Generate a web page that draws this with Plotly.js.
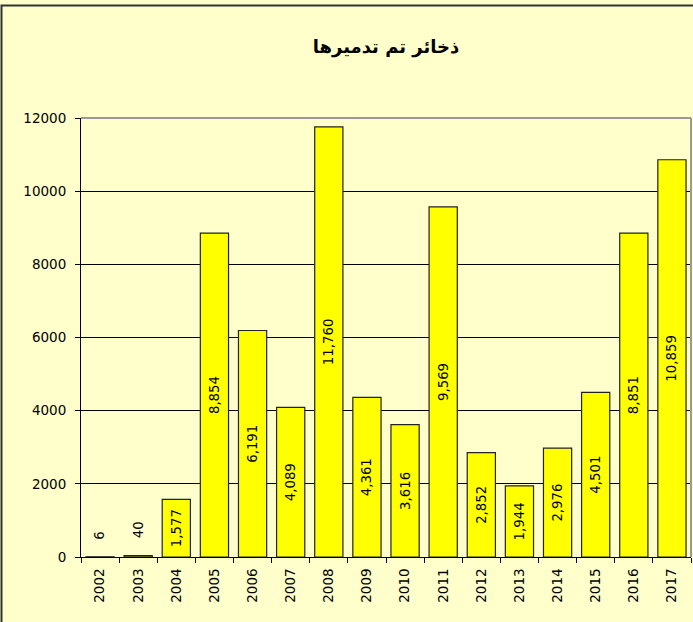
<!DOCTYPE html>
<html>
<head>
<meta charset="utf-8">
<script src="https://cdn.plot.ly/plotly-3.0.1.min.js"></script>
<style>
html,body{margin:0;padding:0;background:#FFFFCC;}
#chart{width:693px;height:622px;}
</style>
</head>
<body>
<div id="chart"></div>
<script>
const years = ["2002","2003","2004","2005","2006","2007","2008","2009","2010","2011","2012","2013","2014","2015","2016","2017"];
const values = [6, 40, 1577, 8854, 6191, 4089, 11760, 4361, 3616, 9569, 2852, 1944, 2976, 4501, 8851, 10859];
const titleText = "ذخائر تم تدميرها";
const yTicks = [0, 2000, 4000, 6000, 8000, 10000, 12000];

const fontFam = "DejaVu Sans, Verdana, sans-serif";
const isSmall = values.map(v => v < 500);
const fmt = v => v.toLocaleString("en-US");

const trace = {
  type: "bar",
  x: years,
  y: values,
  marker: {color: "#FFFF00", line: {color: "#222222", width: 1.2}},
  text: values.map((v, i) => isSmall[i] ? "" : fmt(v)),
  textposition: "inside",
  insidetextanchor: "middle",
  textangle: -90,
  constraintext: "none",
  textfont: {family: fontFam, size: 13.3, color: "#000000"},
  hoverinfo: "x+y"
};

const smallAnn = [];
years.forEach((yr, i) => {
  if (isSmall[i]) {
    smallAnn.push({
      x: i, y: values[i], xref: "x", yref: "y",
      text: fmt(values[i]), showarrow: false, textangle: -90,
      xanchor: "center", yanchor: "bottom", yshift: 15,
      font: {family: fontFam, size: 13.3, color: "#000000"}
    });
  }
});

const L = 81, T = 118, W = 610, H = 439;
const layout = {
  width: 693, height: 622,
  margin: {l: L, r: 693 - L - W, t: T, b: 622 - T - H, pad: 0},
  paper_bgcolor: "#FFFFCC",
  plot_bgcolor: "#FFFFCC",
  showlegend: false,
  bargap: 0.26,
  title: {
    text: "<b>" + titleText + "</b>",
    font: {family: fontFam, size: 18, color: "#000000"},
    x: 0.5, xref: "paper", xanchor: "center",
    y: 1 - 47 / 622, yanchor: "middle"
  },
  xaxis: {
    type: "category",
    categoryorder: "array",
    categoryarray: years,
    range: [-0.5, years.length - 0.5],
    showgrid: false,
    showline: true, linecolor: "#000000", linewidth: 1,
    ticks: "outside", tickson: "boundaries", ticklen: 5, tickcolor: "#000000",
    tickangle: -90,
    ticklabelstandoff: 5,
    tickfont: {family: fontFam, size: 13.5, color: "#000000"},
    zeroline: false
  },
  yaxis: {
    range: [0, 12000],
    tickvals: yTicks,
    ticktext: yTicks.map(String),
    showgrid: true, gridcolor: "#000000", gridwidth: 1,
    showline: true, linecolor: "#000000", linewidth: 1,
    ticks: "outside", ticklen: 5, tickcolor: "#000000",
    ticklabelstandoff: 6,
    tickfont: {family: fontFam, size: 13.5, color: "#000000"},
    zeroline: false
  },
  annotations: smallAnn,
  shapes: [
    {type: "line", xref: "paper", yref: "paper", x0: 0, x1: 1, y0: 1, y1: 1,
     line: {color: "#999999", width: 2}, layer: "above"},
    {type: "line", xref: "paper", yref: "paper", x0: 1, x1: 1, y0: 0, y1: 1,
     line: {color: "#999999", width: 2}, layer: "above"},
    {type: "rect", xref: "paper", yref: "paper",
     x0: (1.5 - L) / W, x1: 1.1, y0: -0.3, y1: 1 + (T - 5.5) / H,
     line: {color: "#333333", width: 2}, fillcolor: "rgba(0,0,0,0)", layer: "above"}
  ]
};

Plotly.newPlot("chart", [trace], layout, {displayModeBar: false, staticPlot: true});
</script>
</body>
</html>
